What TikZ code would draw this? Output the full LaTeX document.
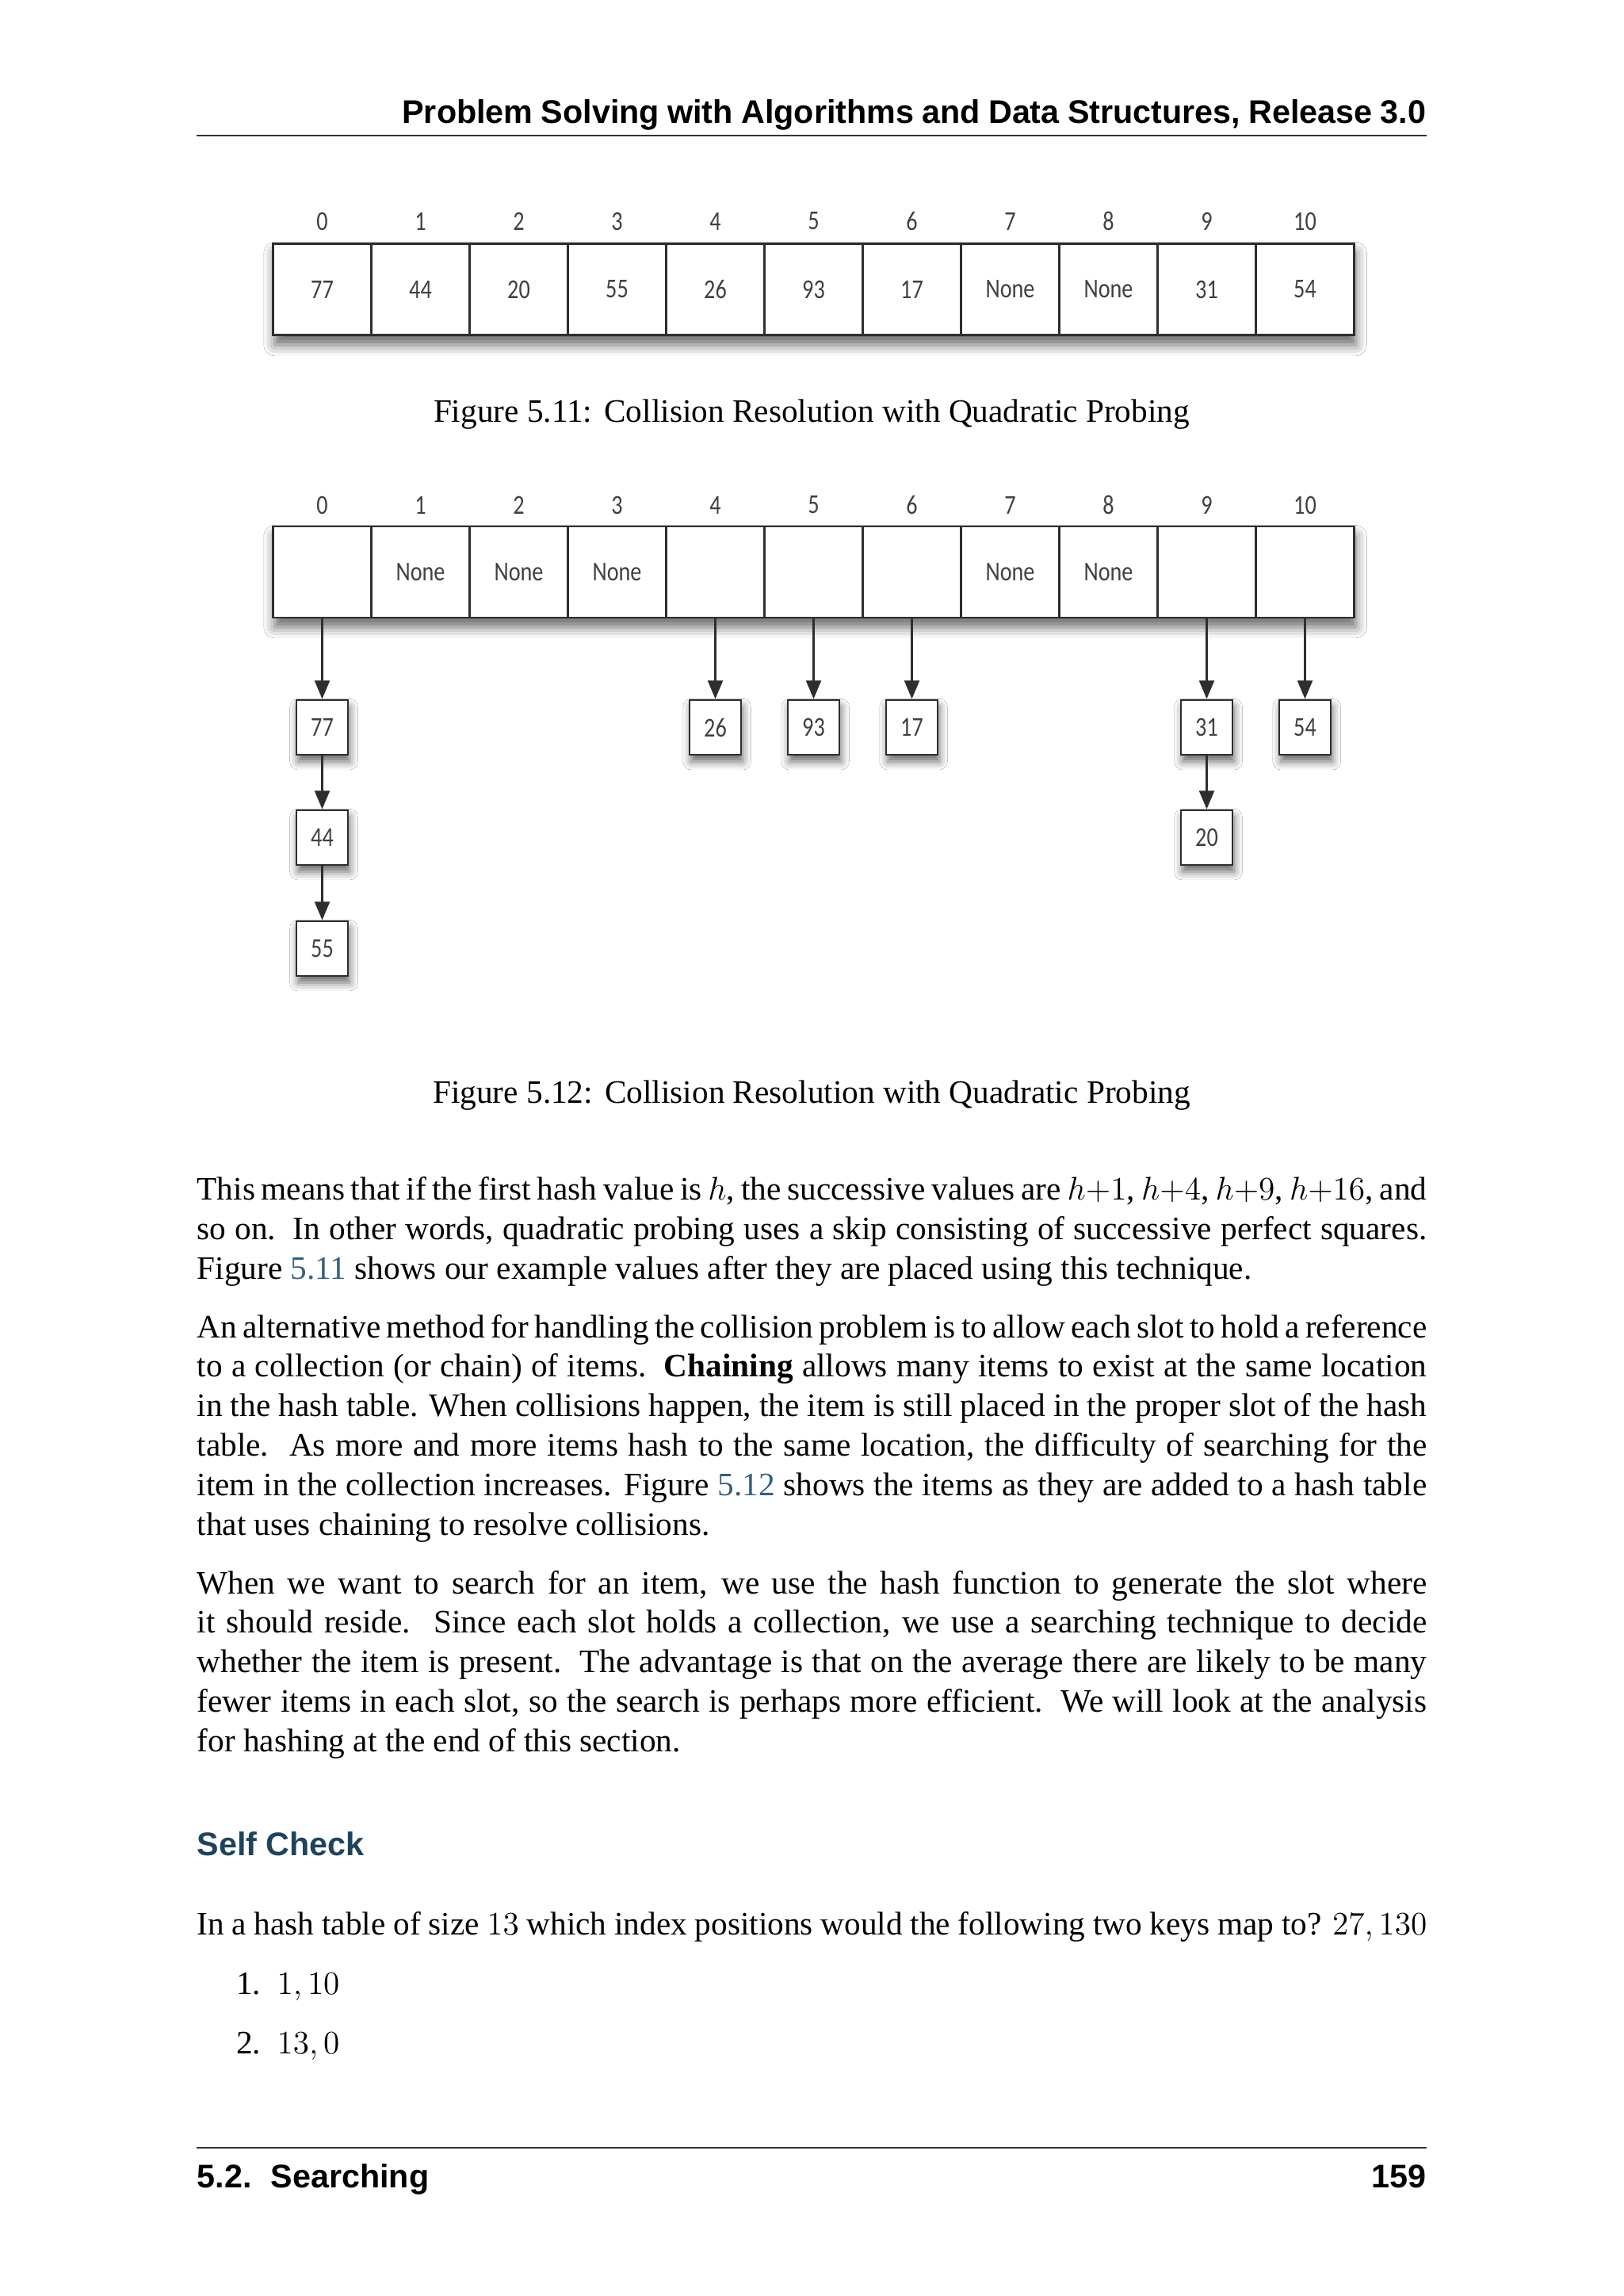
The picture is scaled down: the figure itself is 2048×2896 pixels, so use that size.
\documentclass[tikz,border=0pt]{standalone}
\usepackage{fontspec}
\setmainfont{Liberation Serif}
\setsansfont{Liberation Sans}
\newfontfamily\diagfont{Carlito}[FakeStretch=0.82]
\usetikzlibrary{arrows.meta,shadows.blur}
\definecolor{titlec}{rgb}{0.126,0.263,0.361}
\definecolor{linkc}{rgb}{0.208,0.374,0.486}
\definecolor{boxc}{HTML}{2E2E2E}
\definecolor{txtc}{HTML}{404040}
\newcommand\jl[1]{\makebox[451pt][s]{#1}}
\tikzset{
  dfont/.style={font=\diagfont\fontsize{10}{12}\selectfont, text=txtc},
  cell/.style={dfont, draw=boxc, line width=0.85pt, fill=white, minimum width=36.04pt, minimum height=33.43pt, inner sep=0pt},
  idx/.style={dfont, inner sep=0pt},
  item/.style={dfont, draw=boxc, line width=0.85pt, fill=white, minimum width=18.9pt, minimum height=20.06pt, inner sep=0pt,
    blur shadow={shadow xshift=0.6pt, shadow yshift=-2.5pt, shadow blur radius=3pt, shadow opacity=60}},
  arrshadow/.style={fill=white, blur shadow={shadow xshift=0.6pt, shadow yshift=-3.5pt, shadow blur radius=4pt, shadow opacity=60}},
  arr/.style={draw=boxc, line width=0.6pt, -{Triangle[length=6.7pt,width=5.5pt]}},
  txt/.style={anchor=base west, inner sep=0pt, font=\fontsize{12}{14.5}\selectfont},
  sans/.style={inner sep=0pt, font=\sffamily\bfseries\fontsize{12}{14.5}\selectfont},
}
\begin{document}
\begin{tikzpicture}[x=0.29067pt, y=-0.29067pt]
\fill[white] (0,0) rectangle (2048,2896);
\useasboundingbox (0,0) rectangle (2048,2896);

% header
\node[sans, anchor=base east] (head) at (1800,155) {\makebox[375.5pt][s]{Problem Solving with Algorithms and Data Structures, Release 3.0}};
\draw[line width=0.5pt, black!80] (248,171) -- (1800,171);

% ---------- Figure 5.11 ----------
\fill[arrshadow] (344.5,307) rectangle (1708.5,423);
\foreach \v [count=\j from 0] in {77,44,20,55,26,93,17,None,None,31,54}{
  \node[cell] (a\j) at ({344.5+124*(\j+0.5)},365) {\v};
  \node[idx] (ai\j) at ({344.5+124*(\j+0.5)},279) {\j};
}
\node[txt, anchor=base] (cap1) at (1024,532) {Figure 5.11:\hspace{4.4pt}Collision Resolution with Quadratic Probing};

% ---------- Figure 5.12 ----------
\fill[arrshadow] (344.5,664) rectangle (1708.5,779);
\foreach \v [count=\j from 0] in {{},None,None,None,{},{},{},None,None,{},{}}{
  \node[cell] (b\j) at ({344.5+124*(\j+0.5)},721.5) {\v};
  \node[idx] (bi\j) at ({344.5+124*(\j+0.5)},637) {\j};
}
\node[item] (n77) at (406.5,917.5) {77};
\node[item] (n44) at (406.5,1056.5) {44};
\node[item] (n55) at (406.5,1196.5) {55};
\node[item] (n26) at (902.5,917.5) {26};
\node[item] (n93) at (1026.5,917.5) {93};
\node[item] (n17) at (1150.5,917.5) {17};
\node[item] (n31) at (1522.5,917.5) {31};
\node[item] (n54) at (1646.5,917.5) {54};
\node[item] (n20) at (1522.5,1056.5) {20};
\draw[arr] (b0.south) -- (n77.north);
\draw[arr] (n77.south) -- (n44.north);
\draw[arr] (n44.south) -- (n55.north);
\draw[arr] (b4.south) -- (n26.north);
\draw[arr] (b5.south) -- (n93.north);
\draw[arr] (b6.south) -- (n17.north);
\draw[arr] (b9.south) -- (n31.north);
\draw[arr] (b10.south) -- (n54.north);
\draw[arr] (n31.south) -- (n20.north);
\node[txt, anchor=base] (cap2) at (1024,1391) {Figure 5.12:\hspace{4.4pt}Collision Resolution with Quadratic Probing};

% ---------- body text ----------
\node[txt] (p1a) at (248,1513.7) {\jl{This means that if the first hash value is $h$, the successive values are $h{+}1$, $h{+}4$, $h{+}9$, $h{+}16$, and}};
\node[txt] (p1b) at (248,1563.6) {\jl{so on.\hspace{1.5pt} In other words, quadratic probing uses a skip consisting of successive perfect squares.}};
\node[txt] (p1c) at (248,1613.5) {Figure \textcolor{linkc}{5.11} shows our example values after they are placed using this technique.};

\node[txt] (p2a) at (248,1687) {\jl{An alternative method for handling the collision problem is to allow each slot to hold a reference}};
\node[txt] (p2b) at (248,1736.9) {\jl{to a collection (or chain) of items.\hspace{1.5pt} \textbf{Chaining} allows many items to exist at the same location}};
\node[txt] (p2c) at (248,1786.8) {\jl{in the hash table. When collisions happen, the item is still placed in the proper slot of the hash}};
\node[txt] (p2d) at (248,1836.7) {\jl{table.\hspace{1.5pt} As more and more items hash to the same location, the difficulty of searching for the}};
\node[txt] (p2e) at (248,1886.6) {\jl{item in the collection increases. Figure \textcolor{linkc}{5.12} shows the items as they are added to a hash table}};
\node[txt] (p2f) at (248,1936.5) {that uses chaining to resolve collisions.};

\node[txt] (p3a) at (248,2010) {\jl{When we want to search for an item, we use the hash function to generate the slot where}};
\node[txt] (p3b) at (248,2059.9) {\jl{it should reside.\hspace{1.5pt} Since each slot holds a collection, we use a searching technique to decide}};
\node[txt] (p3c) at (248,2109.8) {\jl{whether the item is present.\hspace{1.5pt} The advantage is that on the average there are likely to be many}};
\node[txt] (p3d) at (248,2159.7) {\jl{fewer items in each slot, so the search is perhaps more efficient.\hspace{1.5pt} We will look at the analysis}};
\node[txt] (p3e) at (248,2209.6) {for hashing at the end of this section.};

% ---------- self check ----------
\node[sans, anchor=base west, text=titlec] (sc) at (248,2340) {Self Check};
\node[txt] (q) at (248,2440) {\jl{In a hash table of size $13$ which index positions would the following two keys map to? $27, 130$}};
\node[txt, anchor=base east] (l1) at (330,2515) {1.};
\node[txt] (i1) at (349,2515) {$1, 10$};
\node[txt, anchor=base east] (l2) at (330,2590) {2.};
\node[txt] (i2) at (349,2590) {$13, 0$};

% footer
\draw[line width=0.5pt, black!80] (248,2709) -- (1800,2709);
\node[sans, anchor=base west] (foot) at (248,2759) {5.2.\hspace{7pt}Searching};
\node[sans, anchor=base east] (pg) at (1800,2759) {159};
\end{tikzpicture}
\end{document}
